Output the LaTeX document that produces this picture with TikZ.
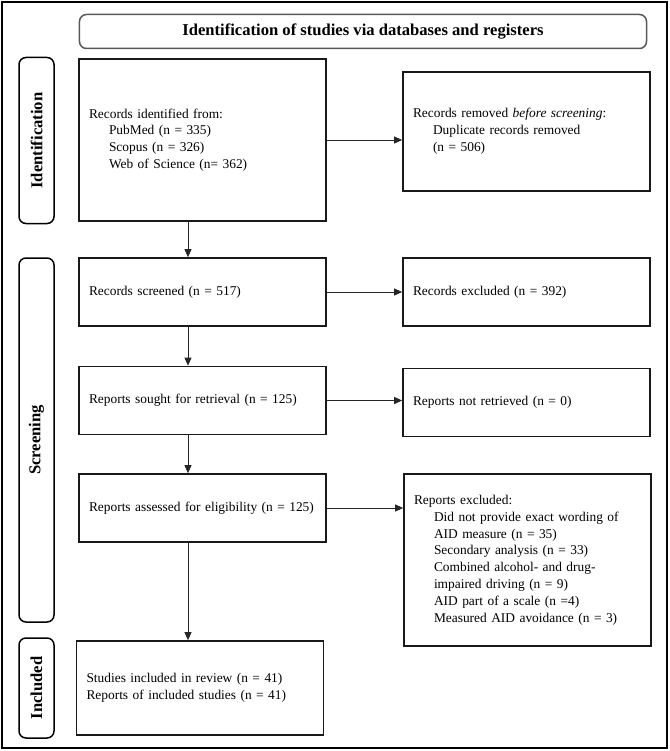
\documentclass[tikz,border=0pt]{standalone}
\usepackage{fontspec}
\setmainfont{Liberation Serif}
\usetikzlibrary{arrows.meta}
\begin{document}
\begin{tikzpicture}[x=1bp,y=-1bp,
  box/.style={draw=black!90,line width=1.7bp,rectangle,inner xsep=10bp,inner ysep=2bp,
    minimum width=247bp,text width=227bp,align=left,
    font=\fontsize{13.4bp}{16.8bp}\selectfont},
  phase/.style={draw=black,line width=1.5bp,rounded corners=7bp,rotate=90,
    minimum height=35bp,inner sep=0pt,font=\fontsize{16.6bp}{19bp}\selectfont\bfseries},
  arr/.style={draw=black!85,line width=0.9bp,-{Triangle[length=8bp,width=7bp]}}]
\useasboundingbox (0,0) rectangle (670,751);
\fill[white] (0,0) rectangle (670,751);
\node[draw=black,line width=2bp,minimum width=665bp,minimum height=746bp,inner sep=0pt] (frame) at (334.5,375) {};
% title
\node[draw=black!65,line width=1.5bp,rounded corners=7bp,minimum width=567bp,minimum height=34bp,inner sep=0pt,
  font=\fontsize{16.6bp}{19bp}\selectfont\bfseries] (title) at (363,31.5) {Identification of studies via databases and registers};
% phase labels
\node[phase,minimum width=166bp] (idlab) at (36.5,140.5) {Identification};
\node[phase,minimum width=364bp] (scrlab) at (36.5,440) {Screening};
\node[phase,minimum width=100bp] (inclab) at (36.5,688) {Included};
% boxes
\node[box,minimum height=162bp] (box1) at (202.5,140) {Records identified from:\\
  \hspace*{20bp}PubMed (n = 335)\\
  \hspace*{20bp}Scopus (n = 326)\\
  \hspace*{20bp}Web of Science (n= 362)};
\node[box,minimum height=119bp] (box2) at (526.5,131.5) {Records removed \textit{before screening}:\\
  \hspace*{20bp}Duplicate records removed\\
  \hspace*{20bp}(n = 506)};
\node[box,minimum height=68bp] (box3) at (202.5,292) {Records screened (n = 517)};
\node[box,minimum height=68bp] (box4) at (526.5,292) {Records excluded (n = 392)};
\node[box,minimum height=68bp] (box5) at (202.5,400.5) {Reports sought for retrieval (n = 125)};
\node[box,minimum height=68bp] (box6) at (526.5,402.5) {Reports not retrieved (n = 0)};
\node[box,minimum height=68bp] (box7) at (202.5,508) {\mbox{Reports assessed for eligibility (n = 125)}};
\node[box,minimum height=172bp] (box8) at (527.5,560) {Reports excluded:\\
  \hspace*{20bp}Did not provide exact wording of\\
  \hspace*{20bp}AID measure (n = 35)\\
  \hspace*{20bp}Secondary analysis (n = 33)\\
  \hspace*{20bp}Combined alcohol- and drug-\\
  \hspace*{20bp}impaired driving (n = 9)\\
  \hspace*{20bp}AID part of a scale (n =4)\\
  \hspace*{20bp}Measured AID avoidance (n = 3)};
\node[box,minimum height=94bp] (incl) at (200,688) {Studies included in review (n = 41)\\
  Reports of included studies (n = 41)};
% connectors
\coordinate (ax) at (188,0);
\draw[arr] (box1.south -| ax) -- (box3.north -| ax);
\draw[arr] (box3.south -| ax) -- (box5.north -| ax);
\draw[arr] (box5.south -| ax) -- (box7.north -| ax);
\draw[arr] (box7.south -| ax) -- (incl.north -| ax);
\draw[arr] (box1.east) -- (box1.east -| box2.west);
\draw[arr] (box3.east) -- (box3.east -| box4.west);
\draw[arr] (box5.east) -- (box5.east -| box6.west);
\draw[arr] (box7.east) -- (box7.east -| box8.west);
\end{tikzpicture}
\end{document}
